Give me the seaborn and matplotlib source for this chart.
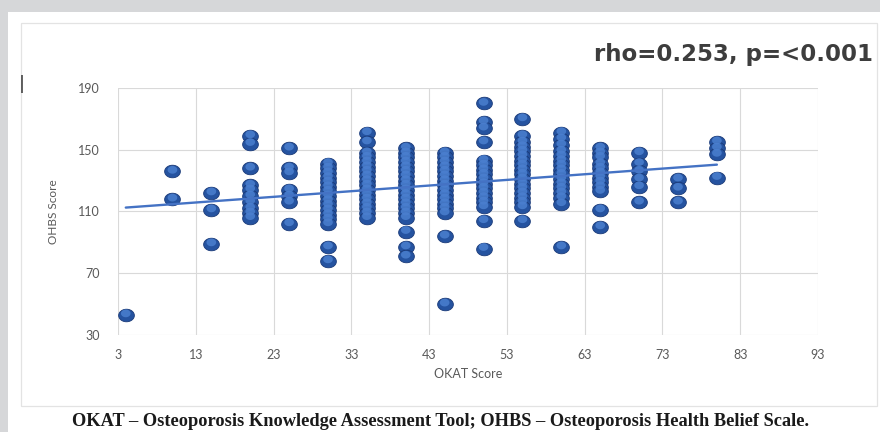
import numpy as np
import pandas as pd
import matplotlib
matplotlib.use("Agg")
import matplotlib.pyplot as plt
import matplotlib.transforms as mtransforms
from matplotlib.path import Path
from matplotlib.patches import Rectangle
import seaborn as sns

# ---- data ----
okat_levels = [4, 10, 15, 20, 25, 30, 35, 40, 45, 50, 55, 60, 65, 70, 75, 80]
ohbs_4 = [43]
ohbs_10 = [136, 118]
ohbs_15 = [122, 111, 89]
ohbs_20 = [159, 154, 138, 127, 124, 120, 116, 112, 109, 106]
ohbs_25 = [151, 138, 135, 124, 120, 116, 102]
ohbs_30 = [141, 138, 135, 132, 129, 126, 123, 120, 117, 114, 111, 108, 105, 102, 87, 78]
ohbs_35 = [161, 155, 148, 145, 142, 139, 136, 133, 130, 127, 124, 121, 118, 115, 112, 109, 106]
ohbs_40 = [151, 148, 145, 142, 139, 136, 133, 130, 127, 124, 121, 118, 115, 112, 109, 106, 97, 87, 81]
ohbs_45 = [148, 145, 142, 139, 136, 133, 130, 127, 124, 121, 118, 115, 112, 109, 94, 50]
ohbs_50 = [180, 168, 164, 155, 143, 140, 137, 134, 131, 128, 125, 122, 119, 116, 113, 104, 86]
ohbs_55 = [170, 159, 155, 152, 149, 146, 143, 140, 137, 134, 131, 128, 125, 122, 119, 116, 113, 104]
ohbs_60 = [161, 157, 153, 149, 146, 143, 140, 137, 134, 131, 128, 125, 122, 119, 115, 87]
ohbs_65 = [151, 148, 145, 141, 138, 135, 132, 129, 126, 123, 111, 100]
ohbs_70 = [148, 141, 136, 131, 126, 116]
ohbs_75 = [131, 125, 116]
ohbs_80 = [155, 151, 147, 132]
ohbs_columns = [ohbs_4, ohbs_10, ohbs_15, ohbs_20, ohbs_25, ohbs_30, ohbs_35, ohbs_40,
                ohbs_45, ohbs_50, ohbs_55, ohbs_60, ohbs_65, ohbs_70, ohbs_75, ohbs_80]

x_ticks = [3, 13, 23, 33, 43, 53, 63, 73, 83, 93]
y_ticks = [30, 70, 110, 150, 190]
stat_text = "rho=0.253, p=<0.001"
x_label = "OKAT Score"
y_label = "OHBS Score"
caption = "OKAT \u2013 Osteoporosis Knowledge Assessment Tool; OHBS \u2013 Osteoporosis Health Belief Scale."

okat = [x for x, col in zip(okat_levels, ohbs_columns) for _ in col]
ohbs = [y for col in ohbs_columns for y in col]
df = pd.DataFrame({"OKAT": okat, "OHBS": ohbs})

# ---- style ----
sns.set_theme(style="white")
plt.rcParams["font.family"] = ["Lato", "DejaVu Sans"]

fig = plt.figure(figsize=(8.8, 4.32), dpi=100, facecolor="white")
ax = fig.add_axes([118 / 880, 1 - 335 / 432, 700 / 880, 247 / 432])

# background decorations (gray page strips, chart frame)
gray = "#d6d7d9"
fig.patches.append(Rectangle((0, 1 - 12 / 432), 1, 12 / 432, transform=fig.transFigure,
                             facecolor=gray, edgecolor="none", zorder=0))
fig.patches.append(Rectangle((0, 0), 8 / 880, 1, transform=fig.transFigure,
                             facecolor=gray, edgecolor="none", zorder=0))
fig.patches.append(Rectangle((21 / 880, 1 - 406 / 432), 856 / 880, 383 / 432,
                             transform=fig.transFigure, facecolor="none",
                             edgecolor="#e3e3e3", lw=0.9, zorder=0))

# ellipse marker (wider than tall)
t = np.linspace(0, 2 * np.pi, 60)
ell = Path(np.column_stack([np.cos(t), 0.8 * np.sin(t)]), closed=True)

sns.scatterplot(data=df, x="OKAT", y="OHBS", ax=ax, marker=ell, s=128,
                color="#2553a0", edgecolor="#1a3a78", linewidth=0.6, zorder=2, legend=False)
# glossy highlight
hl = mtransforms.offset_copy(ax.transData, fig=fig, x=0, y=1.1, units="points")
sns.scatterplot(data=df, x="OKAT", y="OHBS", ax=ax, marker=ell, s=48,
                color="#4a7fcf", edgecolor="none", linewidth=0, zorder=2.5, legend=False,
                transform=hl, alpha=0.85)

sns.regplot(data=df, x="OKAT", y="OHBS", ax=ax, scatter=False, ci=None, truncate=True,
            line_kws={"color": "#4472c4", "lw": 1.7, "zorder": 3})

ax.set_xlim(3, 93)
ax.set_ylim(30, 190)
ax.set_xticks(x_ticks)
ax.set_yticks(y_ticks)
ax.grid(True, color="#d9d9d9", lw=0.8)
ax.set_axisbelow(True)
for s in ax.spines.values():
    s.set_visible(False)
ax.tick_params(axis="both", length=0, labelsize=9, labelcolor="#595959")
ax.tick_params(axis="x", pad=10)
ax.tick_params(axis="y", pad=13)

ax.set_xlabel(x_label, fontsize=9, color="#595959")
ax.set_ylabel(y_label, fontsize=8.5, color="#595959")
ax.xaxis.set_label_coords(0.5, -0.135)
ax.yaxis.set_label_coords(-0.085, 0.5)

fig.text(873 / 880, 1 - 55 / 432, stat_text, ha="right", va="center",
         fontsize=16.5, fontweight="bold", color="#3d3d3d", family=["DejaVu Sans"])
fig.text(440 / 880, 1 - 422 / 432, caption, ha="center", va="center",
         fontsize=13.2, fontweight="bold", color="#1a1a1a",
         family=["Liberation Serif", "DejaVu Serif"])
fig.text(22 / 880, 1 - 84 / 432, "|", ha="center", va="center", fontsize=13,
         color="#333333", family=["DejaVu Sans"])

fig.savefig("out.png", dpi=100, facecolor="white")
